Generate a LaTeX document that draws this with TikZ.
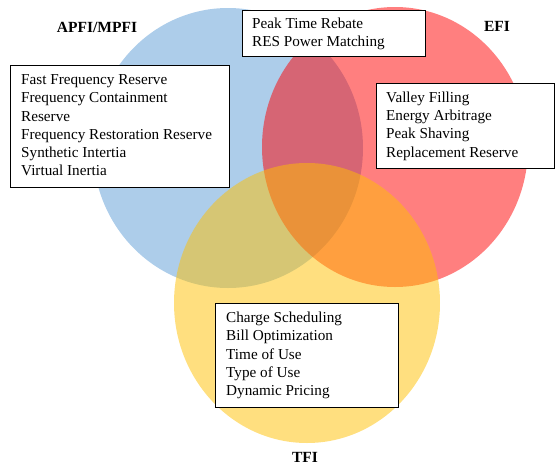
\documentclass[tikz,border=0pt]{standalone}
\usepackage{fontspec}
\setmainfont{Liberation Serif}
\definecolor{cblue}{HTML}{5B9BD5}
\definecolor{cred}{HTML}{FF0000}
\definecolor{cyel}{HTML}{FFC000}
\begin{document}
\begin{tikzpicture}[x=1pt,y=-1pt,
  setbox/.style={draw=black, line width=1pt, fill=white, anchor=north west, inner sep=0pt},
  settxt/.style={anchor=west, align=left, inner sep=0pt, font=\fontsize{15.2}{18.3}\selectfont},
  setlab/.style={font=\fontsize{15.5}{16}\selectfont\bfseries, inner sep=0pt},
  venn/.style={fill opacity=0.5, draw=none}]
\useasboundingbox (0,0) rectangle (555,464);
% circles
\fill[venn, cblue] (228,148) ellipse [x radius=135pt, y radius=140pt];
\fill[venn, cred] (395,147) ellipse [x radius=133pt, y radius=140pt];
\fill[venn, cyel] (307,303) ellipse [x radius=133pt, y radius=140pt];
% boxes
\node[setbox, minimum width=219pt, minimum height=122pt] (bL) at (10,65) {};
\node[settxt] (tL) at ([xshift=11pt]bL.west) {\strut Fast Frequency Reserve\\\strut Frequency Containment\\\strut Reserve\\\strut Frequency Restoration Reserve\\\strut Synthetic Intertia\\\strut Virtual Inertia};
\node[setbox, minimum width=183pt, minimum height=46pt] (bT) at (242,10) {};
\node[settxt] (tT) at ([xshift=10pt]bT.west) {\strut Peak Time Rebate\\\strut RES Power Matching};
\node[setbox, minimum width=178pt, minimum height=85pt] (bR) at (376,83) {};
\node[settxt] (tR) at ([xshift=10pt]bR.west) {\strut Valley Filling\\\strut Energy Arbitrage\\\strut Peak Shaving\\\strut Replacement Reserve};
\node[setbox, minimum width=183pt, minimum height=104pt] (bB) at (215,303) {};
\node[settxt] (tB) at ([xshift=11pt]bB.west) {\strut Charge Scheduling\\\strut Bill Optimization\\\strut Time of Use\\\strut Type of Use\\\strut Dynamic Pricing};
% labels
\node[setlab] (lA) at (97,27) {APFI/MPFI};
\node[setlab] (lE) at (497,26) {EFI};
\node[setlab] (lT) at (305,457) {TFI};
\end{tikzpicture}
\end{document}
